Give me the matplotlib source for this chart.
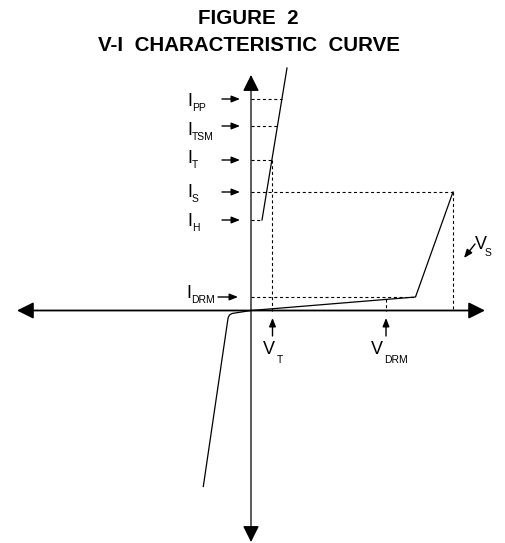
import matplotlib
matplotlib.use("Agg")
import matplotlib.pyplot as plt

plt.rcParams['font.family'] = ['Liberation Sans', 'DejaVu Sans']
plt.rcParams['lines.scale_dashes'] = False

# current levels (left side), measured from the origin
i_names = ['PP', 'TSM', 'T', 'S', 'H', 'DRM']
i_levels = [211.5, 184.5, 150.5, 118.5, 90.5, 13.5]

# voltage levels (bottom)
v_names = ['T', 'DRM', 'S']
v_levels = [21.5, 135, 202]

# on-state branch (steep line)
on_v = [11, 36]
on_i = [90.5, 242.5]

# off-state branch: origin -> V_DRM knee -> V_S breakover
off_v = [0, 164.5, 202]
off_i = [0, 13.5, 118.5]

# third quadrant branch
neg_v = [0, -19, -21.5, -22.8, -23.3, -47.7]
neg_i = [0, -3, -4.5, -7, -10, -176]

fig = plt.figure(figsize=(5.06, 5.43), dpi=100)
ax = fig.add_axes([0, 0, 1, 1])
ax.set_xlim(-251, 255)
ax.set_ylim(-232.5, 310.5)
ax.axis('off')

big = dict(arrowstyle='<|-|>,head_length=10,head_width=5', color='black',
           shrinkA=0, shrinkB=0, mutation_scale=1)
ax.annotate('', xy=(-234, 0), xytext=(234, 0), arrowprops=dict(big, lw=1.3))
ax.annotate('', xy=(0, 235.5), xytext=(0, -231.5), arrowprops=dict(big, lw=0.9))

ax.plot(on_v, on_i, color='black', lw=0.9)
ax.plot(off_v, off_i, color='black', lw=0.9)
ax.plot(neg_v, neg_i, color='black', lw=0.9)

dash = dict(color='black', lw=0.8, linestyle=(0, (2.2, 1.9)))


def on_x(i):
    return on_v[0] + (on_v[1] - on_v[0]) * (i - on_i[0]) / (on_i[1] - on_i[0])


# horizontal dashed guides
for name, lv in zip(i_names, i_levels):
    if name == 'S':
        x_end = off_v[2]
    elif name == 'DRM':
        x_end = off_v[1]
    else:
        x_end = on_x(lv)
    ax.plot([0, x_end], [lv, lv], **dash)

# vertical dashed guides
ax.plot([v_levels[0], v_levels[0]], [i_levels[2], 0], **dash)
ax.plot([v_levels[1], v_levels[1]], [v_levels[1] * off_i[1] / off_v[1], 0], **dash)
ax.plot([v_levels[2], v_levels[2]], [i_levels[3], 0], **dash)

small = dict(arrowstyle='-|>,head_length=5,head_width=2', color='black',
             shrinkA=0, shrinkB=0, mutation_scale=1, lw=1.0)

# left labels with arrows
lab_dy = [7, 9.3, 3, 5, 6, 1]
for name, lv, dy in zip(i_names, i_levels, lab_dy):
    x0, x1 = (-33, -13) if name == 'DRM' else (-29, -11)
    lx = -65 if name == 'DRM' else -64
    ax.annotate('', xy=(x1, lv), xytext=(x0, lv), arrowprops=small)
    ax.text(lx, lv - dy, 'I', fontsize=13, ha='left', va='baseline')
    ax.text(lx + 4.8, lv - dy - 4.6, name, fontsize=7.5, ha='left', va='baseline')

# bottom labels with arrows
for name, lv in zip(v_names[:2], v_levels[:2]):
    ax.annotate('', xy=(lv, -7.5), xytext=(lv, -25.5), arrowprops=small)
    lx = lv - 10 if name == 'T' else lv - 15.5
    ax.text(lx, -43.5, 'V', fontsize=13, ha='left', va='baseline')
    ax.text(lx + 14, -52.5, name, fontsize=7.5, ha='left', va='baseline')

# V_S label
ax.annotate('', xy=(213, 52.5), xytext=(224, 66.5), arrowprops=small)
ax.text(223.5, 61.5, 'V', fontsize=13, ha='left', va='baseline')
ax.text(234, 54.5, 'S', fontsize=7.5, ha='left', va='baseline')

fig.text(248.5 / 506, 1 - 19 / 543, 'FIGURE  2', fontsize=14.8, fontweight='bold',
         ha='center', va='center')
fig.text(248.5 / 506, 1 - 45.5 / 543, 'V-I  CHARACTERISTIC  CURVE', fontsize=14.8,
         fontweight='bold', ha='center', va='center')

fig.savefig('out.png', dpi=100)
